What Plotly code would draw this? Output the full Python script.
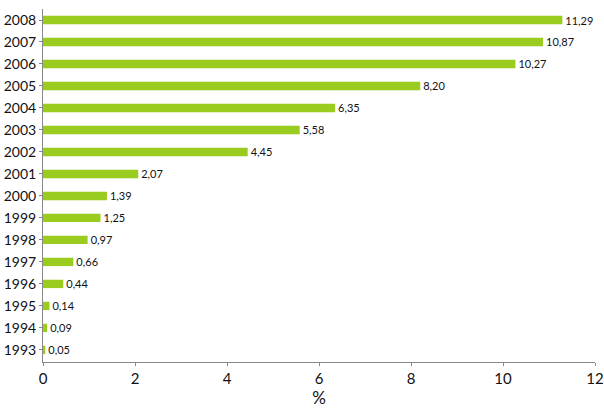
import plotly.graph_objects as go

years = ["1993", "1994", "1995", "1996", "1997", "1998", "1999", "2000",
         "2001", "2002", "2003", "2004", "2005", "2006", "2007", "2008"]
values = [0.05, 0.09, 0.14, 0.44, 0.66, 0.97, 1.25, 1.39,
          2.07, 4.45, 5.58, 6.35, 8.20, 10.27, 10.87, 11.29]
x_ticks = [0, 2, 4, 6, 8, 10, 12]

labels = [f"{v:.2f}".replace(".", ",") for v in values]

fig = go.Figure(go.Bar(
    x=values, y=years, orientation="h",
    marker=dict(color="#99cc1f", line=dict(width=0)),
    width=0.38,
    text=labels, textposition="outside", cliponaxis=False,
    constraintext="none",
    textfont=dict(family="Lato", size=11, color="#111111"),
))

fig.update_layout(
    width=604, height=411,
    margin=dict(l=43, r=9, t=9, b=49, autoexpand=False),
    paper_bgcolor="white", plot_bgcolor="white",
    showlegend=False,
    font=dict(family="Lato", color="#111111"),
)
fig.update_xaxes(
    range=[0, 12], tickvals=x_ticks, ticktext=[str(t) for t in x_ticks],
    showgrid=False, zeroline=False, automargin=False,
    ticklabeloverflow="allow",
    showline=True, linecolor="#888888", linewidth=1,
    ticks="outside", ticklen=3, tickcolor="#888888",
    tickfont=dict(size=15, family="Lato", color="#111111"),
    title=dict(text="%", font=dict(size=17, family="Lato", color="#111111"), standoff=4),
)
fig.update_yaxes(
    type="category", range=[-0.55, 15.5], automargin=False,
    showgrid=False, zeroline=False,
    showline=True, linecolor="#888888", linewidth=1,
    ticks="outside", ticklen=3, tickcolor="#888888",
    tickfont=dict(size=14, family="Lato", color="#111111"),
)

fig.write_html("out.html", config={"displayModeBar": False},
               post_script="document.body.style.margin='0';document.body.style.overflow='hidden';")
